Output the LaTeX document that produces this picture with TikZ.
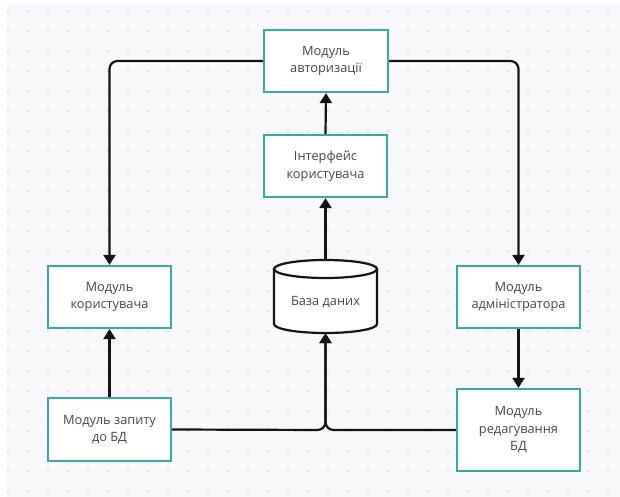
\documentclass[tikz,border=0pt]{standalone}
\usepackage{fontspec}
\setmainfont{Open Sans}
\usetikzlibrary{arrows.meta}
\definecolor{bgc}{HTML}{F8F8FB}
\definecolor{dotc}{HTML}{D9D9E2}
\definecolor{teal}{HTML}{35ABA3}
\definecolor{txt}{HTML}{474747}
\definecolor{lnc}{HTML}{141414}
\tikzset{
  box/.style={draw=teal, line width=2.2pt, fill=white, text=txt, align=center,
    font=\fontsize{12.8}{17.5}\selectfont, inner sep=0pt},
  conn/.style={draw=lnc, line width=2.2pt, rounded corners=8pt,
    -{Triangle[width=12pt,length=10pt]}},
}
\begin{document}
\begin{tikzpicture}[x=1pt,y=-1pt]
\useasboundingbox (0,0) rectangle (620,497);
\fill[white] (0,0) rectangle (620,497);
\fill[bgc] (7,4) rectangle (620,497);
\foreach \i in {0,...,30}{
  \foreach \j in {0,...,24}{
    \fill[dotc] (8+20*\i,11+20*\j) circle (1.1pt);
  }
}
% nodes
\node[box, minimum width=124pt, minimum height=62pt] (auth) at (326,61) {Модуль\\авторизації};
\node[box, minimum width=123pt, minimum height=62pt] (ui) at (325.5,166) {Інтерфейс\\користувача};
\node[box, minimum width=123pt, minimum height=62pt] (user) at (109.5,297) {Модуль\\користувача};
\node[box, minimum width=123pt, minimum height=62pt] (admin) at (518.5,297) {Модуль\\адміністратора};
\node[box, minimum width=123pt, minimum height=63pt] (query) at (109.5,429.5) {Модуль запиту\\до БД};
\node[box, minimum width=123pt, minimum height=82pt] (edit) at (518.5,430) {Модуль\\редагування\\БД};
% database cylinder
\node[minimum width=103pt, minimum height=73pt, inner sep=0pt] (db) at (325.5,296.5) {};
\fill[white] (274,269) -- (274,324) arc[start angle=180,end angle=360,x radius=51.5pt,y radius=9pt] -- (377,269) arc[start angle=0,end angle=180,x radius=51.5pt,y radius=9pt] -- cycle;
\draw[lnc, line width=2.2pt] (274,269) -- (274,324) arc[start angle=180,end angle=360,x radius=51.5pt,y radius=9pt] -- (377,269);
\draw[lnc, line width=2.2pt] (325.5,269) ellipse[x radius=51.5pt, y radius=9pt];
\node[text=txt, font=\fontsize{12.8}{17.5}\selectfont] (dblabel) at (325.5,302) {База даних};
% connectors
\draw[conn] (auth.west) -| (user.north);
\draw[conn] (auth.east) -| (admin.north);
\draw[conn] (ui.north) -- (auth.south);
\draw[conn] (db.north) -- (ui.south);
\draw[conn] (query.north) -- (user.south);
\draw[conn] (admin.south) -- (edit.north);
\coordinate (merge) at (325.5,430);
\draw[conn] (query.east) -- (merge) -- (db.south);
\draw[conn] (edit.west) -- (merge) -- (db.south);
\end{tikzpicture}
\end{document}
